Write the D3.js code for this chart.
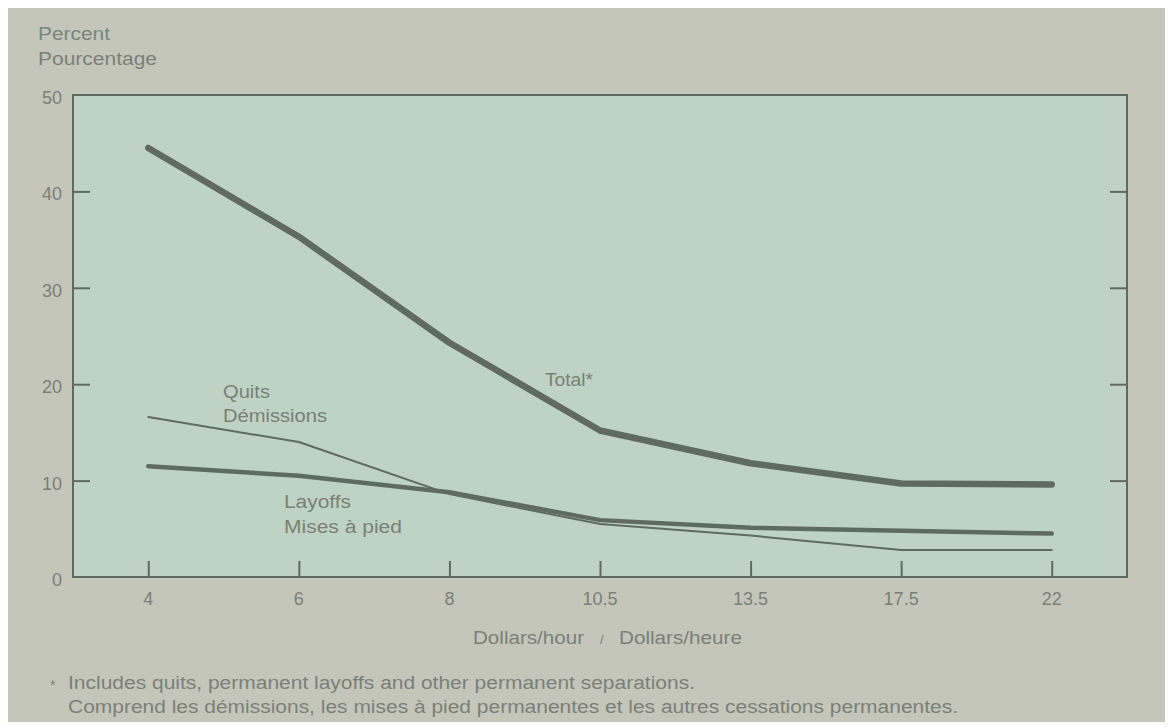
<!DOCTYPE html>
<html><head><meta charset="utf-8">
<script src="https://cdn.jsdelivr.net/npm/d3@7"></script>
<style>body{margin:0;background:#fff;}svg{display:block;font-family:"Liberation Sans",Arial,sans-serif;}</style>
</head><body>
<svg id="c" width="1170" height="727"></svg>
<script>
const categories = ["4","6","8","10.5","13.5","17.5","22"];
const totalValues = [44.5, 35.3, 24.3, 15.2, 11.8, 9.7, 9.6];
const quitsValues = [16.6, 14.0, 8.6, 5.5, 4.3, 2.8, 2.8];
const layoffsValues = [11.5, 10.5, 8.8, 5.9, 5.1, 4.8, 4.5];
const yTicks = [0, 10, 20, 30, 40, 50];

const svg = d3.select("#c");
const L = 73, R = 1127, T = 95, B = 577;
const ink = "#5f6b60", txt = "#7b8077";

svg.append("rect").attr("x",8).attr("y",8).attr("width",1157).attr("height",714).attr("fill","#c4c6ba");
svg.append("rect").attr("x",L).attr("y",T).attr("width",R-L).attr("height",B-T).attr("fill","#bed3c3");

const x = d3.scalePoint().domain(categories).range([L,R]).padding(0.5);
const y = d3.scaleLinear().domain([0,50]).range([B,T]);

svg.append("rect").attr("x",L).attr("y",T).attr("width",R-L).attr("height",B-T)
  .attr("fill","none").attr("stroke",ink).attr("stroke-width",2);

const inner = yTicks.filter(d=>d>0&&d<50);
const yl = svg.append("g").attr("transform",`translate(${L},0)`)
  .call(d3.axisRight(y).tickValues(inner).tickSize(17).tickFormat(""));
yl.select(".domain").remove();
yl.selectAll("line").attr("stroke",ink).attr("stroke-width",2);
const yr = svg.append("g").attr("transform",`translate(${R},0)`)
  .call(d3.axisLeft(y).tickValues(inner).tickSize(17).tickFormat(""));
yr.select(".domain").remove();
yr.selectAll("line").attr("stroke",ink).attr("stroke-width",2);
svg.append("g").selectAll("text").data(yTicks).join("text")
  .attr("x",62).attr("y",d=>y(d)+9).attr("text-anchor","end")
  .attr("font-size",18).attr("fill",txt).text(d=>d);

const xa = svg.append("g").attr("transform",`translate(0,${B})`)
  .call(d3.axisTop(x).tickSize(16).tickFormat(""));
xa.select(".domain").remove();
xa.selectAll("line").attr("stroke",ink).attr("stroke-width",2);
svg.append("g").selectAll("text").data(categories).join("text")
  .attr("x",d=>x(d)).attr("y",605).attr("text-anchor","middle")
  .attr("font-size",18).attr("fill",txt).text(d=>d);

const line = d3.line().x((d,i)=>x(categories[i])).y(d=>y(d));
function drawLine(vals, w){
  svg.append("path").datum(vals).attr("d",line).attr("fill","none")
    .attr("stroke",ink).attr("stroke-width",w).attr("stroke-linejoin","round").attr("stroke-linecap","round");
}
drawLine(quitsValues, 2);
drawLine(layoffsValues, 4.5);
drawLine(totalValues, 6.5);

function label(t, xx, yy, opts={}){
  const e = svg.append("text").attr("x",xx).attr("y",yy).attr("font-size",opts.fs||18)
    .attr("fill",opts.fill||txt).text(t);
  if(opts.len) e.attr("textLength",opts.len).attr("lengthAdjust","spacingAndGlyphs");
  return e;
}
label("Percent", 38, 40, {fill:"#76877a", len:72});
label("Pourcentage", 38, 65, {len:119});
label("Total*", 545, 386, {len:48});
label("Quits", 223, 398, {len:47});
label("Démissions", 223, 422, {len:104});
label("Layoffs", 284, 508, {len:67});
label("Mises à pied", 284, 533, {len:118});
label("Dollars/hour", 473, 644, {len:111});
label("/", 600, 644, {fs:13});
label("Dollars/heure", 619, 644, {len:123});
label("*", 50, 690, {fs:14});
label("Includes quits, permanent layoffs and other permanent separations.", 68, 689, {len:627});
label("Comprend les démissions, les mises à pied permanentes et les autres cessations permanentes.", 68, 713, {len:890});
</script>
</body></html>
